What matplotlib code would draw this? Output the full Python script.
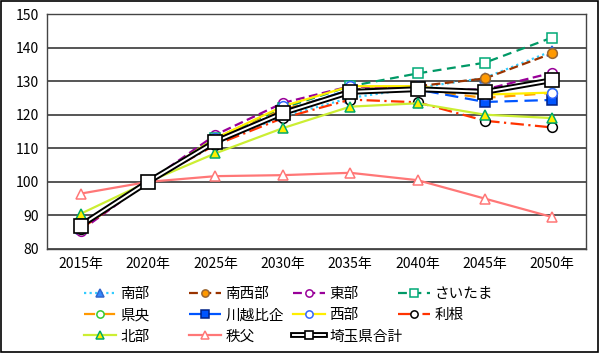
import matplotlib
matplotlib.use("Agg")
from matplotlib import pyplot as plt
from matplotlib.lines import Line2D
from matplotlib.patches import Rectangle

plt.rcParams['font.family'] = ['Noto Sans CJK JP', 'DejaVu Sans']

years = ['2015年', '2020年', '2025年', '2030年', '2035年', '2040年', '2045年', '2050年']

nanbu = [86, 100, 111.5, 119.5, 125, 128, 131, 139]
nanseibu = [86, 100, 112, 120.5, 127.5, 128.5, 130.8, 138.3]
toubu = [85.5, 100, 114, 123.5, 128.5, 127.5, 127.5, 132.5]
saitama = [86.5, 100, 113, 122, 128.5, 132.3, 135.5, 143]
kenou = [86, 100, 112.5, 121.5, 127, 127.5, 125, 126.5]
kawagoe = [86.5, 100, 112.5, 121, 127.5, 127.5, 123.8, 124.4]
seibu = [87, 100, 113, 122.5, 128.5, 128.5, 126, 126.6]
tone = [86, 100, 111, 119, 124.5, 123.7, 118.2, 116.2]
hokubu = [90.5, 100, 108.5, 116, 122.4, 123.4, 120, 119]
chichibu = [96.5, 100, 101.7, 102, 102.7, 100.5, 95, 89.5]
total = [87, 100, 112, 120.5, 126.8, 127.6, 126.8, 130.3]

# (label, data, color, linestyle, marker, marker face, marker edge)
series = [
    ('南部', nanbu, '#33CCFF', (0, (1, 1.5)), '^', '#3388FF', '#3366CC'),
    ('南西部', nanseibu, '#993300', (0, (4, 2)), 'o', '#FF9900', '#996633'),
    ('東部', toubu, '#990099', (0, (4, 2)), 'o', 'white', '#990099'),
    ('さいたま', saitama, '#009966', (0, (4, 2.5)), 's', 'white', '#00AA77'),
    ('県央', kenou, '#FF9900', (0, (5, 4)), 'o', 'white', '#33CC33'),
    ('川越比企', kawagoe, '#0055FF', (0, (6, 3)), 's', '#0055FF', '#002288'),
    ('西部', seibu, '#FFEE00', '-', 'o', 'white', '#3366FF'),
    ('利根', tone, '#FF3300', (0, (6, 2, 1, 2)), 'o', 'white', 'black'),
    ('北部', hokubu, '#CCEE33', '-', '^', '#FFEE00', '#00AA66'),
    ('秩父', chichibu, '#FF7777', '-', '^', 'white', '#FF7777'),
]

fig = plt.figure(figsize=(6.0, 3.53), dpi=100)
ax = fig.add_axes([47 / 600, 1 - 249 / 353, 539 / 600, 235 / 353])
x = list(range(len(years)))

handles = {}
for label, data, color, ls, mk, mfc, mec in series:
    h, = ax.plot(x, data, color=color, linestyle=ls, lw=1.6, marker=mk,
                 markersize=7, markerfacecolor=mfc, markeredgecolor=mec,
                 markeredgewidth=1.1, label=label, zorder=3)
    handles[label] = h

# 埼玉県合計 is a double line: thick black with a thin white core
ax.plot(x, total, color='black', lw=4.2, zorder=4, solid_capstyle='butt')
ax.plot(x, total, color='white', lw=1.4, zorder=5, marker='s', markersize=10,
        markerfacecolor='white', markeredgecolor='black', markeredgewidth=1.2)
tot_outer = Line2D([], [], color='black', lw=4.2)
tot_inner = Line2D([], [], color='white', lw=1.4, marker='s', markersize=8,
                   markerfacecolor='white', markeredgecolor='black', markeredgewidth=1.2)
handles['埼玉県合計'] = (tot_outer, tot_inner)

ax.set_xlim(-0.5, len(years) - 0.5)
ax.set_ylim(80, 150)
ax.set_yticks(range(80, 151, 10))
ax.set_xticks(x)
ax.set_xticklabels(years)
ax.yaxis.grid(True, color='#555555', lw=1.4)
ax.set_axisbelow(True)
ax.tick_params(length=0, labelsize=10, pad=6)
for s in ax.spines.values():
    s.set_color('#444444')
    s.set_linewidth(1.0)

# legend laid out row by row, one legend per column
columns = [['南部', '県央', '北部'], ['南西部', '川越比企', '秩父'],
           ['東部', '西部', '埼玉県合計'], ['さいたま', '利根']]
col_x = [84, 189, 293, 398]
for xs, keys in zip(col_x, columns):
    leg = fig.legend([handles[k] for k in keys], keys, loc='upper left',
                     bbox_to_anchor=(xs / 600, 1 - 287 / 353), ncol=1, frameon=False,
                     fontsize=10.5, handlelength=2.2, handletextpad=0.3,
                     labelspacing=0.5, borderpad=0, borderaxespad=0, markerscale=0.75)

fig.patches.append(Rectangle((0.001, 0.002), 0.996, 0.995, transform=fig.transFigure,
                             fill=False, edgecolor='black', lw=1.2))

fig.savefig('out.png', dpi=100)
